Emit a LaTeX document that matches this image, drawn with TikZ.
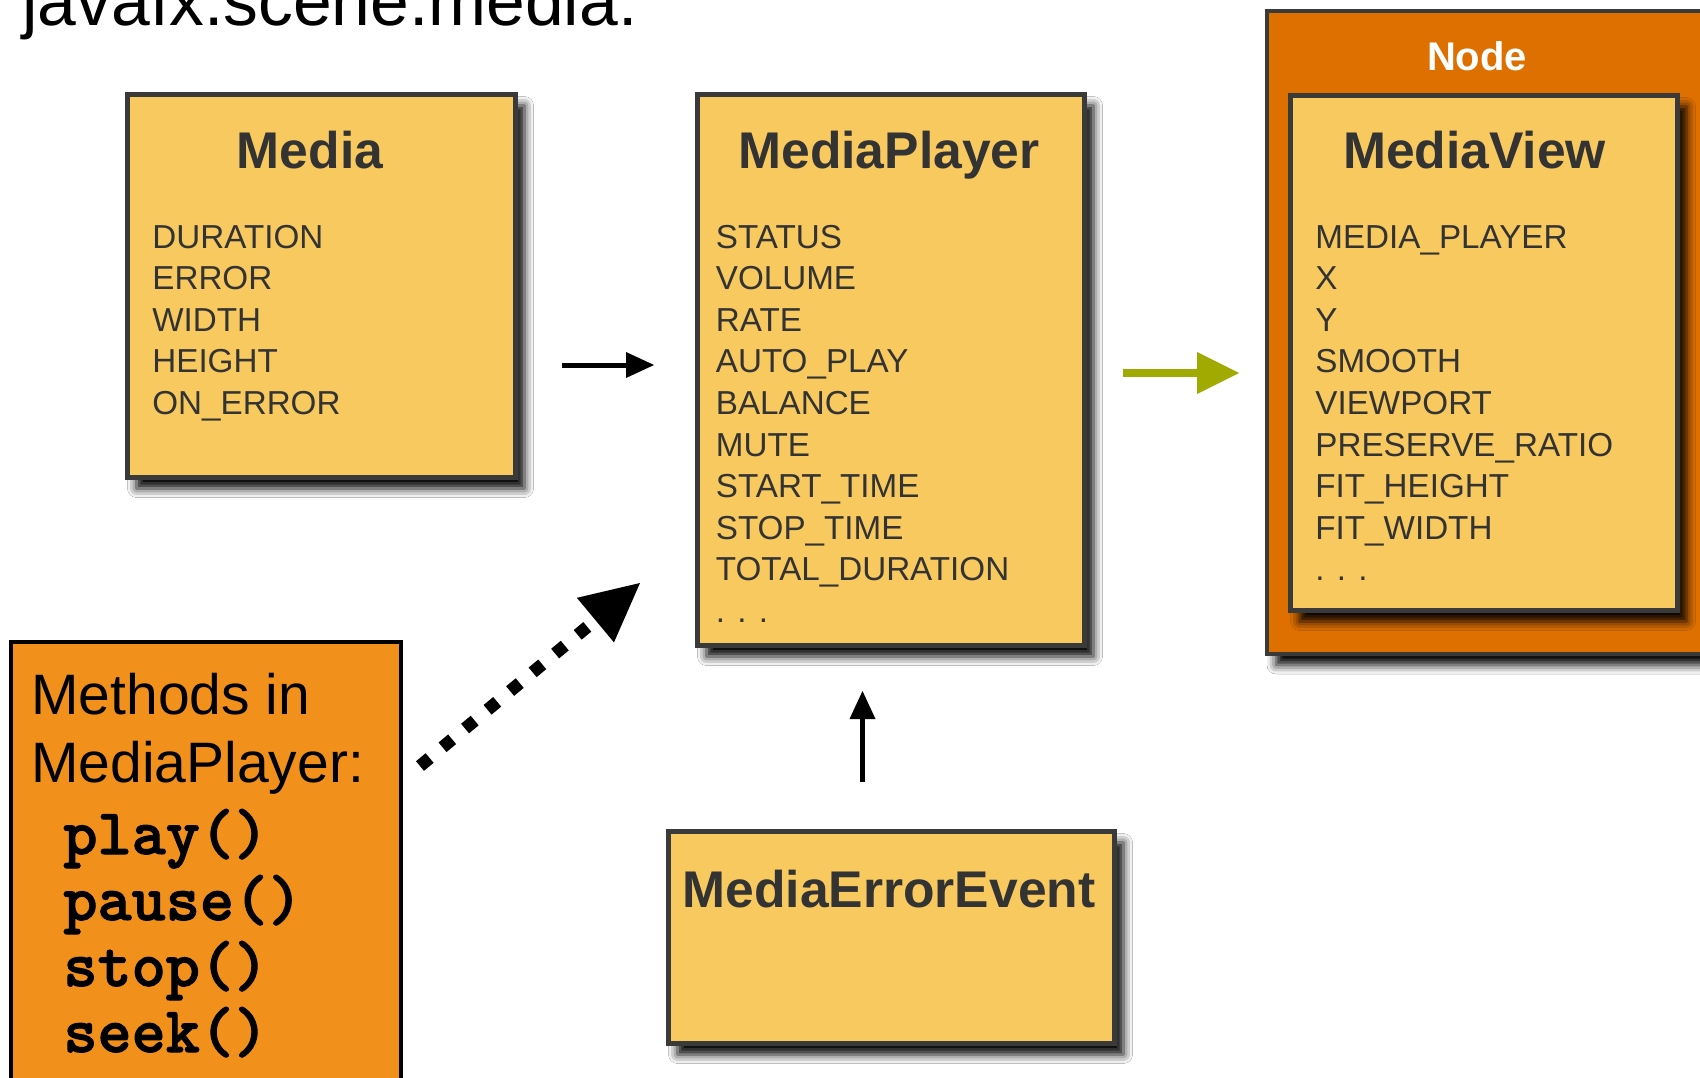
\documentclass[tikz,border=0pt]{standalone}
\usepackage{fontspec}
\setmainfont{Liberation Sans}
\newfontfamily\monob{Latin Modern Mono Light}[BoldFeatures={FakeBold=1.6}]
\usetikzlibrary{arrows.meta,shadows.blur,calc}
\definecolor{boxfill}{HTML}{F7C95E}
\definecolor{boxline}{HTML}{3A3A3A}
\definecolor{nodefill}{HTML}{DE7000}
\definecolor{methfill}{HTML}{F1901A}
\definecolor{greenarr}{HTML}{A0AA00}
\definecolor{txt}{HTML}{333333}
\tikzset{
  shad/.style={blur shadow={shadow xshift=4.5pt, shadow yshift=-5.5pt, shadow blur radius=4.5pt, shadow opacity=100}},
  ybox/.style={draw=boxline, fill=boxfill, line width=2.5pt, inner sep=0pt, shad},
  nbox/.style={draw=boxline, fill=nodefill, line width=2pt, inner sep=0pt, shad},
  mbox/.style={draw=black, fill=methfill, line width=2pt, inner sep=0pt},
  ttl/.style={font=\fontsize{25.8pt}{30pt}\selectfont\bfseries, text=txt, inner sep=0pt, anchor=base},
  attr/.style={font=\fontsize{16.6pt}{20pt}\selectfont, text=txt, inner sep=0pt, anchor=base west},
  meth/.style={font=\fontsize{28.5pt}{34pt}\selectfont, text=black, inner sep=0pt, anchor=base west},
  code/.style={font=\fontsize{32.5pt}{38pt}\monob\bfseries, text=black, inner sep=0pt, anchor=base west},
  blackarr/.style={line width=2.5pt, draw=black, -{Triangle[length=14pt,width=13pt,line width=0pt]}},
  grnarr/.style={line width=4pt, draw=greenarr, -{Triangle[length=21pt,width=21pt,line width=0pt]}},
  dotarr/.style={line width=6.25pt, draw=black, dash pattern=on 6.25pt off 8.4pt, -{Triangle[length=29pt,width=29pt,line width=0pt]}},
}
\begin{document}
\begin{tikzpicture}[x=0.5pt, y=-0.5pt]
\useasboundingbox (0,0) rectangle (1700,1077);
\fill[white] (0,0) rectangle (1700,1077);

% title
\node[font=\fontsize{34.8pt}{40pt}\selectfont, text=black, inner sep=0pt, anchor=base west] (title) at (22,25) {javafx.scene.media:};

% boxes
\node[ybox, minimum width=194pt, minimum height=191.5pt] (media) at (321.5,286) {};
\node[ybox, minimum width=193.5pt, minimum height=275.5pt] (mp) at (891,370) {};
\node[nbox, minimum width=246.5pt, minimum height=321.5pt] (nodebox) at (1513.5,332.5) {};
\node[ybox, minimum width=193.5pt, minimum height=257.5pt] (mv) at (1484,353) {};
\node[ybox, minimum width=223pt, minimum height=106pt] (mee) at (891.5,937.5) {};
\node[mbox, minimum width=195pt, minimum height=239pt] (methods) at (206,881) {};

% titles
\node[ttl] (mediaT) at (310,168.5) {Media};
\node[ttl] (mpT) at (889,168.5) {MediaPlayer};
\node[ttl] (mvT) at (1474.5,168.5) {MediaView};
\node[ttl] (meeT) at (889,907.5) {MediaErrorEvent};
\node[font=\fontsize{20pt}{24pt}\selectfont\bfseries, text=white, inner sep=0pt, anchor=base] (nodeT) at (1477,70) {Node};

% attributes
\foreach \t [count=\i from 0] in {DURATION,ERROR,WIDTH,HEIGHT,ON\_ERROR}
  \node[attr] (mediaA\i) at (152,248+41.6*\i) {\t};
\foreach \t [count=\i from 0] in {STATUS,VOLUME,RATE,AUTO\_PLAY,BALANCE,MUTE,START\_TIME,STOP\_TIME,TOTAL\_DURATION,. . .}
  \node[attr] (mpA\i) at (715.5,248+41.6*\i) {\t};
\foreach \t [count=\i from 0] in {MEDIA\_PLAYER,X,Y,SMOOTH,VIEWPORT,PRESERVE\_RATIO,FIT\_HEIGHT,FIT\_WIDTH,. . .}
  \node[attr] (mvA\i) at (1315,248+41.6*\i) {\t};

% methods text
\node[meth] (m1) at (31,714) {Methods in};
\node[meth] (m2) at (31,782) {MediaPlayer:};
\node[code] (c1) at (63,854) {play()};
\node[code] (c2) at (63,920) {pause()};
\node[code] (c3) at (63,986) {stop()};
\node[code] (c4) at (63,1052) {seek()};

% connectors
\coordinate (a1) at ([yshift=2.5pt]mp.west);
\draw[blackarr, shorten <=22pt, shorten >=20.5pt] (media.east |- a1) -- (a1);
\coordinate (a2) at ([yshift=-1.5pt]mp.east);
\draw[grnarr, shorten <=18pt, shorten >=13pt] (a2) -- (nodebox.west |- a2);
\coordinate (a3) at ([xshift=-14.5pt]mee.north);
\draw[blackarr, shorten <=23.5pt, shorten >=21.5pt] (a3) -- (mp.south -| a3);
\coordinate (d1) at ($(methods.north east)+(17,126)$);
\coordinate (d2) at ($(mp.south west)+(-55,-65)$);
\draw[dotarr] (d1) -- (d2);
\end{tikzpicture}
\end{document}
